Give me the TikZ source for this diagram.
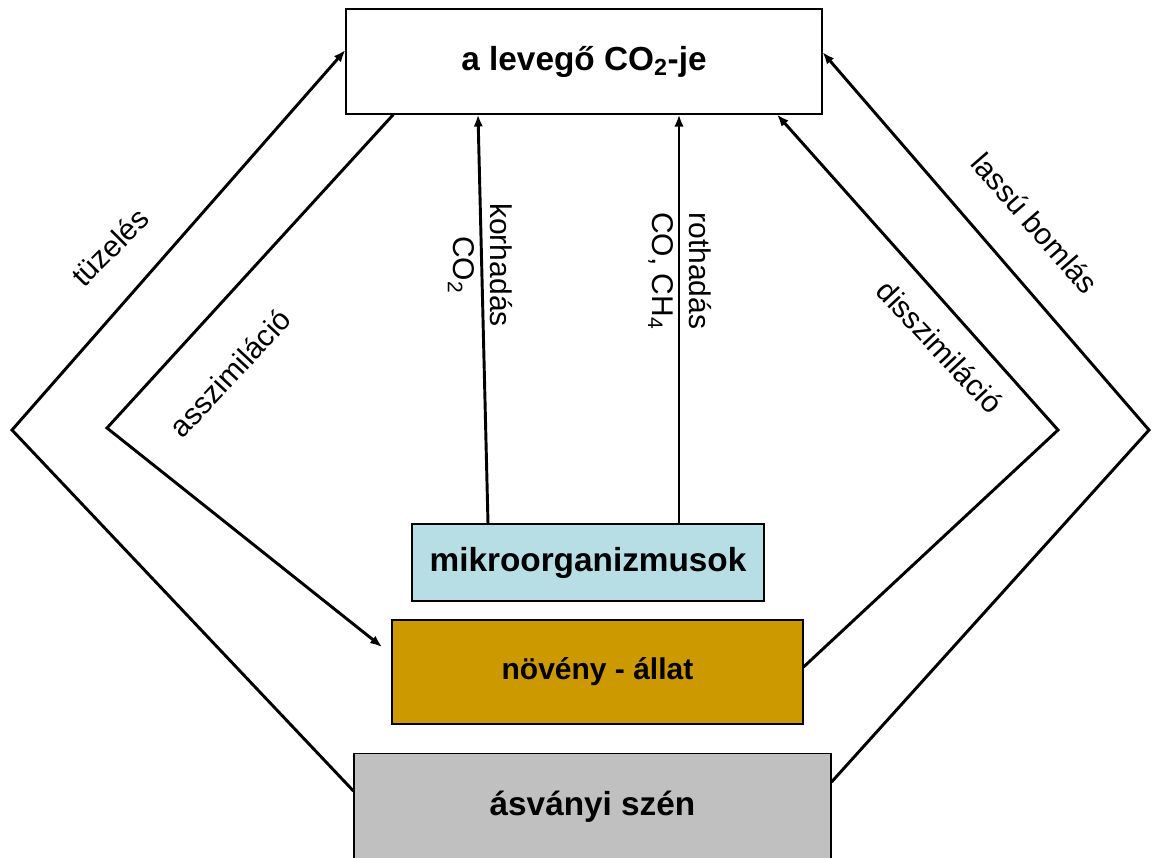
\documentclass[tikz,border=0pt]{standalone}
\usepackage{fontspec}
\setmainfont{Liberation Sans}
\usetikzlibrary{arrows.meta}

\definecolor{mikrokek}{RGB}{183,222,228}
\definecolor{okker}{RGB}{204,153,0}
\definecolor{szurke}{RGB}{192,192,192}

\begin{document}
\begin{tikzpicture}[x=0.75pt, y=-0.75pt, line width=2.2pt,
    >={Latex[length=9pt,width=7pt]},
    box/.style={draw, line width=0.8pt, inner sep=0pt,
      font=\fontsize{25}{30}\selectfont\bfseries},
    lbl/.style={inner sep=0pt, font=\fontsize{22.5}{27.75}\selectfont}]
  \clip (0,0) rectangle (1152,857);

  \node[box, fill=white, minimum width=357pt, minimum height=78.75pt]
       (levego) at (584,61.5)  {a levegő CO\textsubscript{2}-je};
  \node[box, fill=mikrokek, minimum width=264pt, minimum height=57.75pt]
       (mikro)  at (588,562.5) {mikroorganizmusok};
  \node[box, fill=okker, minimum width=308.25pt, minimum height=78pt,
        font=\fontsize{22.5}{27}\selectfont\bfseries]
       (noveny) at (597.5,672) {növény - állat};
  \node[box, fill=szurke, minimum width=357.75pt, minimum height=80pt]
       (szen)   at (592.5,807) {ásványi szén};

  % sarkok
  \coordinate (kbal)  at (12,430);
  \coordinate (bbal)  at (107,428);
  \coordinate (bjobb) at (1058,430);
  \coordinate (kjobb) at (1149,430);

  \draw[->] ([yshift=12pt]szen.west) -- (kbal) -- ([yshift=8.6pt]levego.west);
  \draw[->] ([xshift=-143pt]levego.south) -- (bbal) -- ([xshift=-7pt,yshift=18.75pt]noveny.west);
  \draw[->] ([xshift=-75pt]mikro.north) -- ([xshift=-79.5pt]levego.south);
  \draw[->] ([xshift=68.25pt]mikro.north) -- ([xshift=71.25pt]levego.south);
  \draw[->] ([yshift=3.75pt]noveny.east) -- (bjobb) -- ([xshift=144.75pt]levego.south);
  \draw[->] ([yshift=18.75pt]szen.east) -- (kjobb) -- ([yshift=7pt]levego.east);

  % feliratok
  \node[lbl, rotate=45]  (tuz)   at (110,247)   {tüzelés};
  \node[lbl, rotate=47]  (asszi) at (230,373)   {asszimiláció};
  \node[lbl, rotate=-90, align=center] (korh) at (480,265) {korhadás\\CO\textsubscript{2}};
  \node[lbl, rotate=-90, align=center] (roth) at (680,271) {rothadás\\CO, CH\textsubscript{4}};
  \node[lbl, rotate=-47] (disszi) at (940,347)  {disszimiláció};
  \node[lbl, rotate=-49] (lassu) at (1035,223)  {lassú bomlás};
\end{tikzpicture}
\end{document}
